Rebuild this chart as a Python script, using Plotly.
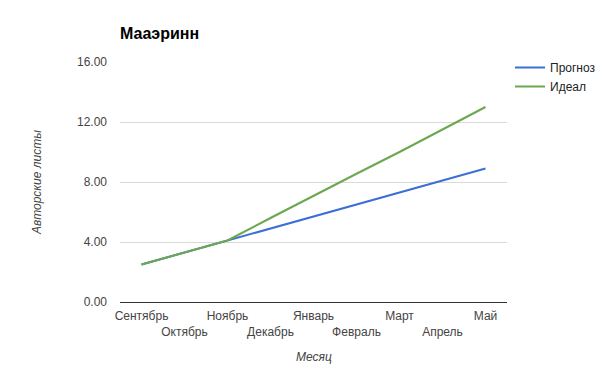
import plotly.graph_objects as go

months = ["Сентябрь", "Октябрь", "Ноябрь", "Декабрь", "Январь",
          "Февраль", "Март", "Апрель", "Май"]
forecast = [2.5, 3.3, 4.1, 4.9, 5.7, 6.5, 7.3, 8.1, 8.9]
ideal = [2.5, 3.3, 4.1, 5.6, 7.1, 8.55, 10.0, 11.5, 13.0]
y_ticks = [0, 4, 8, 12, 16]

x_idx = list(range(len(months)))
even_vals = [i for i in x_idx if i % 2 == 0]
odd_vals = [i for i in x_idx if i % 2 == 1]

W, H = 597, 361
L, R, T, B = 112, 98, 54, 67
PW, PH = W - L - R, H - T - B

fig = go.Figure()
fig.add_trace(go.Scatter(x=x_idx, y=forecast, mode="lines", name="Прогноз",
                         line=dict(color="#3c6fd6", width=2)))
fig.add_trace(go.Scatter(x=x_idx, y=ideal, mode="lines", name="Идеал",
                         line=dict(color="#6aa84f", width=2)))
fig.add_trace(go.Scatter(x=x_idx, y=forecast, mode="lines", xaxis="x2",
                         showlegend=False, hoverinfo="skip", opacity=0,
                         line=dict(width=0)))

font = "Arial, Liberation Sans, sans-serif"
fig.update_layout(
    width=W, height=H,
    margin=dict(l=L, r=R, t=T, b=B, autoexpand=False),
    paper_bgcolor="white", plot_bgcolor="white",
    font=dict(family=font, size=12, color="#444"),
    title=dict(text="<b>Мааэринн</b>", x=L / W, xanchor="left",
               y=1 - 25 / H, yanchor="middle", automargin=False,
               font=dict(size=16, color="#000", family=font)),
    legend=dict(x=(502 - L) / PW, y=1 + 9 / PH, xanchor="left", yanchor="top",
                font=dict(size=12, color="#222"), tracegroupgap=2),
    xaxis=dict(range=[-0.5, 8.5], tickmode="array", tickvals=even_vals,
               ticktext=[months[i] for i in even_vals], showgrid=False,
               zeroline=False, showline=True, linecolor="#333", linewidth=1,
               ticks="", tickangle=0, automargin=False, ticklabelstandoff=3,
               tickfont=dict(size=12, color="#444")),
    xaxis2=dict(range=[-0.5, 8.5], overlaying="x", side="bottom",
                tickmode="array", tickvals=odd_vals,
                ticktext=[months[i] for i in odd_vals], showgrid=False,
                zeroline=False, showline=False, ticks="", tickangle=0,
                automargin=False, ticklabelstandoff=21,
                tickfont=dict(size=12, color="#444")),
    yaxis=dict(range=[0, 16], tickmode="array", tickvals=y_ticks,
               tickformat=".2f", showgrid=True, gridcolor="#d9d9d9",
               zeroline=False, ticks="", ticklabelstandoff=12,
               automargin=False,
               tickfont=dict(size=12, color="#444"),
               title=dict(text="<i>Авторские листы</i>", standoff=32,
                          font=dict(size=12, color="#444"))),
    annotations=[dict(text="<i>Месяц</i>", xref="paper", yref="paper",
                      x=0.5, y=-55 / PH, xanchor="center", yanchor="middle",
                      showarrow=False, font=dict(size=12, color="#444"))],
)

fig.write_html("out.html")
